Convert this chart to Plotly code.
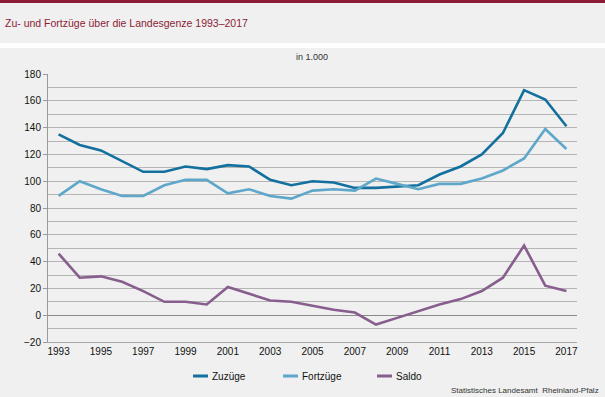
import plotly.graph_objects as go

years = list(range(1993, 2018))
zuzuege = [135, 127, 123, 115, 107, 107, 111, 109, 112, 111, 101, 97, 100, 99, 95, 95, 96, 97,
           105, 111, 120, 136, 168, 161, 141]
fortzuege = [89, 100, 94, 89, 89, 97, 101, 101, 91, 94, 89, 87, 93, 94, 93, 102, 98, 94,
             98, 98, 102, 108, 117, 139, 124]
saldo = [46, 28, 29, 25, 18, 10, 10, 8, 21, 16, 11, 10, 7, 4, 2, -7, -2, 3,
         8, 12, 18, 28, 52, 22, 18]
series_names = ["Zuzüge", "Fortzüge", "Saldo"]
series_colors = ["#13709e", "#5ea7ca", "#875e8d"]
x_ticks = list(range(1993, 2018, 2))

W, H = 605, 397
L, R, T, B = 48, 28, 74, 55
pw, ph = W - L - R, H - T - B


def px(x):
    return (x - L) / pw


def py(y):
    return (H - B - y) / ph


fig = go.Figure()
for name, vals, col in zip(series_names, [zuzuege, fortzuege, saldo], series_colors):
    fig.add_trace(go.Scatter(x=years, y=vals, mode="lines", name=name,
                             line=dict(color=col, width=2.6), showlegend=False))

font_family = "Liberation Sans, Arial, sans-serif"
shapes = [
    # top dark red bar
    dict(type="rect", xref="paper", yref="paper", x0=px(0), x1=px(W), y0=py(3), y1=py(0),
         fillcolor="#8c1c36", line=dict(width=0), layer="below"),
    # white strip
    dict(type="rect", xref="paper", yref="paper", x0=px(0), x1=px(W), y0=py(48), y1=py(43),
         fillcolor="#ffffff", line=dict(width=0), layer="below"),
]
annotations = [
    dict(text="Zu- und Fortzüge über die Landesgenze 1993–2017", xref="paper", yref="paper",
         x=px(3), y=py(23), xanchor="left", yanchor="middle", showarrow=False,
         font=dict(family=font_family, size=10.5, color="#8c1c36")),
    dict(text="in 1.000", xref="paper", yref="paper", x=px(312), y=py(57),
         xanchor="center", yanchor="middle", showarrow=False,
         font=dict(family=font_family, size=9, color="#333333")),
    dict(text="Statistisches Landesamt  Rheinland-Pfalz", xref="paper", yref="paper",
         x=px(601), y=py(390), xanchor="right", yanchor="middle", showarrow=False,
         font=dict(family=font_family, size=8, color="#333333")),
]
legend_x = [193, 283, 377]
for name, col, lx in zip(series_names, series_colors, legend_x):
    shapes.append(dict(type="line", xref="paper", yref="paper", x0=px(lx), x1=px(lx + 15),
                       y0=py(376), y1=py(376), line=dict(color=col, width=3)))
    annotations.append(dict(text=name, xref="paper", yref="paper", x=px(lx + 17), y=py(376),
                            xanchor="left", yanchor="middle", showarrow=False,
                            font=dict(family=font_family, size=10, color="#111111")))

fig.update_layout(
    width=W, height=H,
    margin=dict(l=L, r=R, t=T, b=B, pad=0),
    paper_bgcolor="#eff0ef", plot_bgcolor="#eff0ef",
    font=dict(family=font_family, size=10, color="#111111"),
    shapes=shapes, annotations=annotations,
    showlegend=False,
)
fig.update_xaxes(range=[1992.5, 2017.5], tickvals=x_ticks, ticktext=[str(v) for v in x_ticks],
                 showgrid=False, zeroline=False, showline=True, linecolor="#a8a8a8", linewidth=1,
                 ticks="", tickfont=dict(size=10, color="#111111"), fixedrange=True)
fig.update_yaxes(range=[-20, 180], dtick=20, tick0=0, showgrid=True, gridcolor="#b5b5b5",
                 gridwidth=1, minor=dict(dtick=10, showgrid=True, gridcolor="#b5b5b5", gridwidth=1),
                 zeroline=True, zerolinecolor="#8a8a8a", zerolinewidth=1,
                 showline=True, linecolor="#9a9a9a", linewidth=1,
                 ticks="outside", ticklen=4, tickcolor="#9a9a9a",
                 tickfont=dict(size=10, color="#111111"), fixedrange=True)

fig.write_html("out.html", config={"displayModeBar": False},
               post_script="document.body.style.margin='0';document.body.style.overflow='hidden';")
